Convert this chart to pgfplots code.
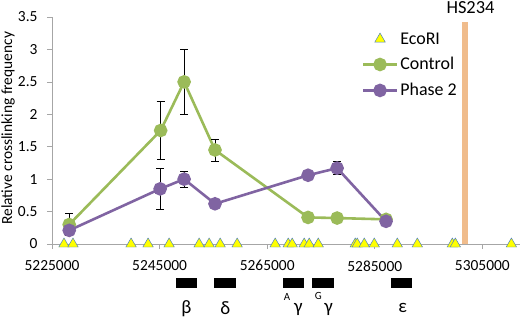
\documentclass[border=0pt]{standalone}
\usepackage{fontspec}
\setmainfont{Carlito}
\usepackage{pgfplots}
\pgfplotsset{compat=1.18}

\definecolor{ctrl}{HTML}{9BBB59}
\definecolor{ph2}{HTML}{8064A2}
\definecolor{hsbar}{HTML}{F0BC8C}
\definecolor{tri}{HTML}{FFFF00}
\definecolor{triedge}{HTML}{4F81BD}

\begin{document}
\begin{tikzpicture}
\begin{axis}[
  scale only axis, width=468bp, height=227bp,
  xmin=5225000, xmax=5312000,
  ymin=0, ymax=3.5,
  clip=false,
  axis x line*=bottom, axis y line*=left,
  axis line style={-, draw=gray!70},
  tick style={gray!70, line width=0.6pt},
  tick align=outside, major tick length=5bp,
  xtick={5225000,5245000,5265000,5285000,5305000},
  ytick={0,0.5,...,3.5},
  scaled x ticks=false,
  xticklabel style={/pgf/number format/1000 sep={}, /pgf/number format/fixed, yshift=-8bp},
  yticklabel style={/pgf/number format/fixed, /pgf/number format/precision=1, xshift=-6bp},
  /pgf/number format/assume math mode=true,
  ticklabel style={font=\fontsize{15.5}{17}\selectfont},
  ylabel={Relative crosslinking frequency},
  ylabel style={font=\fontsize{15.5}{18}\selectfont, at={(axis description cs:-0.094,0.51)}, anchor=center},
  legend style={at={(rel axis cs:0.655,0.95)}, anchor=north west, draw=none, fill=none,
                font=\fontsize{18}{20}\selectfont, row sep=8bp},
  legend cell align=left,
  legend image code/.code={\draw[mark repeat=2,mark phase=2] plot coordinates {(0cm,0cm)(0.6cm,0cm)(1.2cm,0cm)};},
]
% HS234 marker bar
\addplot[hsbar, line width=6bp, forget plot] coordinates {(5301800,0)(5301800,3.42)};
\node[font=\fontsize{18.5}{20}\selectfont, anchor=base] at (axis cs:5302800,3.56) {HS234};

% EcoRI sites
\addplot[only marks, mark=triangle*, mark size=6bp, mark options={fill=tri, draw=triedge, line width=0.5pt}]
  coordinates {(5227230,0)(5228900,0)(5239700,0)(5242860,0)(5246770,0)(5252350,0)(5254210,0)
  (5256260,0)(5259420,0)(5266490,0)(5268910,0)(5269650,0)(5271880,0)(5272810,0)(5274490,0)
  (5281370,0)(5281740,0)(5283050,0)(5284910,0)(5289190,0)(5292910,0)(5299420,0)(5299980,0)
  (5310400,0)};
\addlegendentry{EcoRI}

% Control
\addplot[ctrl, line width=2.6bp, mark=*, mark size=5.5bp,
  error bars/.cd, y dir=both, y explicit, error bar style={black, line width=0.8pt}, error mark options={rotate=90, mark size=4bp, black, line width=0.8pt}]
  coordinates {(5228200,0.30) +- (0,0.17)
               (5245200,1.75) +- (0,0.45)
               (5249560,2.50) +- (0,0.50)
               (5255300,1.45) +- (0,0.17)
               (5272600,0.41) +- (0,0.03)
               (5278000,0.40) +- (0,0.0)
               (5287100,0.38) +- (0,0.0)};
\addlegendentry{Control}

% Phase 2
\addplot[ph2, line width=2.6bp, mark=*, mark size=5.5bp,
  error bars/.cd, y dir=both, y explicit, error bar style={black, line width=0.8pt}, error mark options={rotate=90, mark size=4bp, black, line width=0.8pt}]
  coordinates {(5228200,0.21) +- (0,0.05)
               (5245100,0.85) +- (0,0.32)
               (5249560,1.00) +- (0,0.12)
               (5255300,0.62) +- (0,0.0)
               (5272600,1.06) +- (0,0.0)
               (5278000,1.17) +- (0,0.10)
               (5287100,0.35) +- (0,0.05)};
\addlegendentry{Phase 2}

% gene blocks
\addplot[black, line width=10bp, unbounded coords=jump, forget plot] coordinates {
  (5248070,-0.60)(5251980,-0.60)(5250000,nan)
  (5255140,-0.60)(5259230,-0.60)(5257000,nan)
  (5267980,-0.60)(5271880,-0.60)(5270000,nan)
  (5273370,-0.60)(5277470,-0.60)(5275000,nan)
  (5288070,-0.60)(5291980,-0.60)};
\node[font=\fontsize{19}{21}\selectfont] at (axis cs:5250000,-0.99) {β};
\node[font=\fontsize{19}{21}\selectfont] at (axis cs:5257200,-0.99) {δ};
\node[font=\fontsize{19}{21}\selectfont] at (axis cs:5270800,-1.01) {γ};
\node[font=\fontsize{19}{21}\selectfont] at (axis cs:5276400,-1.01) {γ};
\node[font=\fontsize{19}{21}\selectfont] at (axis cs:5290200,-0.99) {ε};
\node[font=\fontsize{11}{12}\selectfont] at (axis cs:5268700,-0.82) {A};
\node[font=\fontsize{11}{12}\selectfont] at (axis cs:5274500,-0.80) {G};
\end{axis}
\pgfresetboundingbox
\path (-52bp,-77bp) rectangle (468bp,244bp);
\end{tikzpicture}
\end{document}
